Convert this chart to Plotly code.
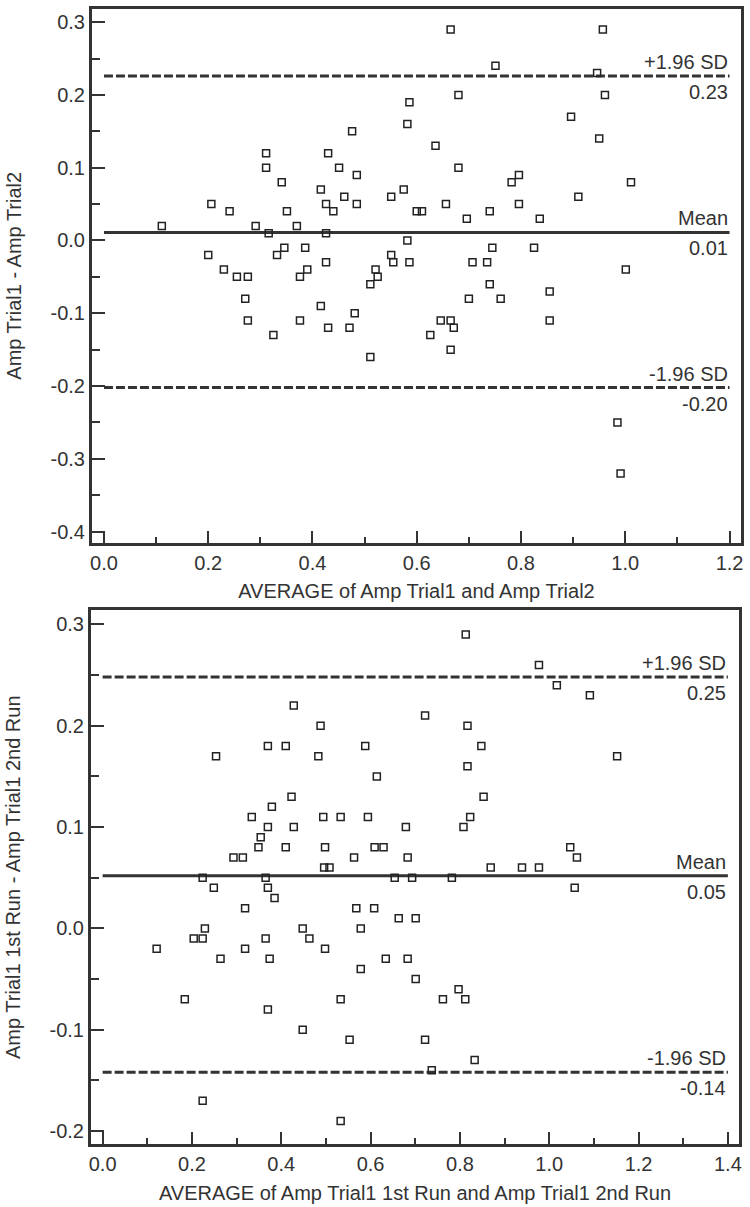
import plotly.graph_objects as go

# ---------------- Top panel data ----------------
top_avg = [0.111, 0.206, 0.241, 0.200, 0.230, 0.255, 0.276, 0.271, 0.291, 0.311,
           0.311, 0.316, 0.332, 0.346, 0.341, 0.351, 0.370, 0.376, 0.390, 0.386,
           0.416, 0.426, 0.440, 0.426, 0.426, 0.430, 0.451, 0.461, 0.476, 0.485,
           0.485, 0.521, 0.525, 0.511, 0.551, 0.555, 0.551, 0.575, 0.582, 0.586,
           0.582, 0.586, 0.600, 0.610, 0.276, 0.325, 0.376, 0.416, 0.430, 0.471,
           0.481, 0.511, 0.665, 0.957, 0.751, 0.946, 0.680, 0.961, 0.896, 0.636,
           0.950, 0.680, 0.796, 0.782, 1.011, 0.910, 0.656, 0.696, 0.740, 0.796,
           0.836, 0.745, 0.825, 0.707, 0.735, 1.001, 0.740, 0.855, 0.700, 0.761,
           0.646, 0.665, 0.671, 0.626, 0.665, 0.855, 0.985, 0.991]
top_diff = [0.02, 0.05, 0.04, -0.02, -0.04, -0.05, -0.05, -0.08, 0.02, 0.12,
            0.10, 0.01, -0.02, -0.01, 0.08, 0.04, 0.02, -0.05, -0.04, -0.01,
            0.07, 0.05, 0.04, 0.01, -0.03, 0.12, 0.10, 0.06, 0.15, 0.09,
            0.05, -0.04, -0.05, -0.06, -0.02, -0.03, 0.06, 0.07, 0.16, 0.19,
            0.00, -0.03, 0.04, 0.04, -0.11, -0.13, -0.11, -0.09, -0.12, -0.12,
            -0.10, -0.16, 0.29, 0.29, 0.24, 0.23, 0.20, 0.20, 0.17, 0.13,
            0.14, 0.10, 0.09, 0.08, 0.08, 0.06, 0.05, 0.03, 0.04, 0.05,
            0.03, -0.01, -0.01, -0.03, -0.03, -0.04, -0.06, -0.07, -0.08, -0.08,
            -0.11, -0.11, -0.12, -0.13, -0.15, -0.11, -0.25, -0.32]
top_mean = 0.011
top_upper = 0.226
top_lower = -0.202
top_line_x = [0.0, 1.2]
top_xrange = [-0.023, 1.222]
top_yrange = [-0.415, 0.318]
top_xticks = [0.0, 0.2, 0.4, 0.6, 0.8, 1.0, 1.2]
top_xticktext = ["0.0", "0.2", "0.4", "0.6", "0.8", "1.0", "1.2"]
top_xminor = [0.1, 0.3, 0.5, 0.7, 0.9, 1.1]
top_yticks = [0.3, 0.2, 0.1, 0.0, -0.1, -0.2, -0.3, -0.4]
top_yticktext = ["0.3", "0.2", "0.1", "0.0", "-0.1", "-0.2", "-0.3", "-0.4"]
top_yminor = [0.25, 0.15, 0.05, -0.05, -0.15, -0.25, -0.35]
top_xtitle = "AVERAGE of Amp Trial1 and Amp Trial2"
top_ytitle = "Amp Trial1 - Amp Trial2"

# ---------------- Bottom panel data ----------------
bot_avg = [0.428, 0.488, 0.370, 0.410, 0.588, 0.254, 0.483, 0.614, 0.423, 0.379,
           0.334, 0.494, 0.533, 0.594, 0.370, 0.428, 0.679, 0.354, 0.349, 0.410,
           0.498, 0.609, 0.629, 0.293, 0.314, 0.563, 0.683, 0.496, 0.508, 0.224,
           0.365, 0.654, 0.693, 0.249, 0.370, 0.385, 0.319, 0.568, 0.608, 0.663,
           0.701, 0.229, 0.448, 0.578, 0.121, 0.204, 0.224, 0.319, 0.365, 0.463,
           0.498, 0.264, 0.374, 0.634, 0.683, 0.578, 0.701, 0.184, 0.533, 0.370,
           0.448, 0.553, 0.224, 0.533, 0.813, 0.977, 1.017, 1.091, 0.722, 0.817,
           0.848, 0.817, 1.152, 0.853, 0.823, 0.808, 1.047, 1.062, 0.869, 0.939,
           0.977, 0.782, 1.057, 0.797, 0.762, 0.812, 0.722, 0.833, 0.737]
bot_diff = [0.22, 0.20, 0.18, 0.18, 0.18, 0.17, 0.17, 0.15, 0.13, 0.12,
            0.11, 0.11, 0.11, 0.11, 0.10, 0.10, 0.10, 0.09, 0.08, 0.08,
            0.08, 0.08, 0.08, 0.07, 0.07, 0.07, 0.07, 0.06, 0.06, 0.05,
            0.05, 0.05, 0.05, 0.04, 0.04, 0.03, 0.02, 0.02, 0.02, 0.01,
            0.01, 0.00, 0.00, 0.00, -0.02, -0.01, -0.01, -0.02, -0.01, -0.01,
            -0.02, -0.03, -0.03, -0.03, -0.03, -0.04, -0.05, -0.07, -0.07, -0.08,
            -0.10, -0.11, -0.17, -0.19, 0.29, 0.26, 0.24, 0.23, 0.21, 0.20,
            0.18, 0.16, 0.17, 0.13, 0.11, 0.10, 0.08, 0.07, 0.06, 0.06,
            0.06, 0.05, 0.04, -0.06, -0.07, -0.07, -0.11, -0.13, -0.14]
bot_mean = 0.052
bot_upper = 0.248
bot_lower = -0.142
bot_line_x = [0.0, 1.4]
bot_xrange = [-0.026, 1.425]
bot_yrange = [-0.2128, 0.3138]
bot_xticks = [0.0, 0.2, 0.4, 0.6, 0.8, 1.0, 1.2, 1.4]
bot_xticktext = ["0.0", "0.2", "0.4", "0.6", "0.8", "1.0", "1.2", "1.4"]
bot_xminor = [0.1, 0.3, 0.5, 0.7, 0.9, 1.1, 1.3]
bot_yticks = [0.3, 0.2, 0.1, 0.0, -0.1, -0.2]
bot_yticktext = ["0.3", "0.2", "0.1", "0.0", "-0.1", "-0.2"]
bot_yminor = [0.25, 0.15, 0.05, -0.05, -0.15]
bot_xtitle = "AVERAGE of Amp Trial1 1st Run and Amp Trial1 2nd Run"
bot_ytitle = "Amp Trial1 1st Run - Amp Trial1 2nd Run"

FONT = "Liberation Sans, Arial, Helvetica, sans-serif"
INK = "#333333"
TICKFONT = dict(family=FONT, size=20, color=INK)
TITLEFONT = dict(family=FONT, size=20, color=INK)
LABELFONT = dict(family=FONT, size=20, color=INK)


def fmt(v):
    s = f"{abs(v):.2f}"
    return ("-" + s) if v < 0 else s


fig = go.Figure()


def add_panel(xa, ya, avg, diff, mean, upper, lower, line_x):
    # reference lines
    for val, dash in ((upper, "9px,3px"), (mean, "solid"), (lower, "9px,3px")):
        fig.add_trace(go.Scatter(
            x=line_x, y=[val, val], mode="lines", xaxis=xa, yaxis=ya,
            line=dict(color="#333333", width=3, dash=dash),
            hoverinfo="skip", showlegend=False))
    # points
    fig.add_trace(go.Scatter(
        x=avg, y=diff, mode="markers", xaxis=xa, yaxis=ya, showlegend=False,
        marker=dict(symbol="square-open", size=7, color="#222222",
                    line=dict(width=1.5, color="#222222"))))
    # labels
    for val, name in ((upper, "+1.96 SD"), (mean, "Mean"), (lower, "-1.96 SD")):
        fig.add_annotation(x=line_x[1], y=val, xref=xa, yref=ya, text=name,
                           showarrow=False, xanchor="right", yanchor="bottom",
                           yshift=1, font=LABELFONT)
        fig.add_annotation(x=line_x[1], y=val, xref=xa, yref=ya, text=fmt(val),
                           showarrow=False, xanchor="right", yanchor="top",
                           yshift=-3, font=LABELFONT)


add_panel("x", "y", top_avg, top_diff, top_mean, top_upper, top_lower, top_line_x)
add_panel("x2", "y2", bot_avg, bot_diff, bot_mean, bot_upper, bot_lower, bot_line_x)


def xaxis_cfg(domain, anchor, rng, tv, tt, minor, title):
    return dict(domain=domain, anchor=anchor, range=rng, tickvals=tv, ticktext=tt,
                ticks="inside", ticklen=12, tickwidth=2, tickcolor=INK,
                minor=dict(tickvals=minor, ticks="inside", ticklen=6, tickwidth=2,
                           tickcolor=INK),
                showline=True, linewidth=3, linecolor=INK, mirror=True,
                showgrid=False, zeroline=False, tickfont=TICKFONT,
                title=dict(text=title, font=TITLEFONT, standoff=12))


def yaxis_cfg(domain, anchor, rng, tv, tt, minor, title):
    return dict(domain=domain, anchor=anchor, range=rng, tickvals=tv, ticktext=tt,
                ticks="inside", ticklen=13, tickwidth=2, tickcolor=INK,
                minor=dict(tickvals=minor, ticks="inside", ticklen=8, tickwidth=2,
                           tickcolor=INK),
                showline=True, linewidth=3, linecolor=INK, mirror=True,
                showgrid=False, zeroline=False, tickfont=TICKFONT,
                title=dict(text=title, font=TITLEFONT, standoff=24))


fig.update_layout(
    width=750, height=1207, autosize=False,
    margin=dict(l=91, r=6, t=7, b=62),
    paper_bgcolor="white", plot_bgcolor="white", showlegend=False,
    xaxis=xaxis_cfg([0.0015, 1.0], "y", top_xrange, top_xticks, top_xticktext,
                    top_xminor, top_xtitle),
    yaxis=yaxis_cfg([0.5299, 1.0], "x", top_yrange, top_yticks, top_yticktext,
                    top_yminor, top_ytitle),
    xaxis2=xaxis_cfg([0.0, 0.997], "y2", bot_xrange, bot_xticks, bot_xticktext,
                     bot_xminor, bot_xtitle),
    yaxis2=yaxis_cfg([0.0, 0.4701], "x2", bot_yrange, bot_yticks, bot_yticktext,
                     bot_yminor, bot_ytitle),
)

fig.write_html(
    "out.html",
    config={"displayModeBar": False},
    post_script="document.body.style.margin='0';document.body.style.overflow='hidden';",
)
